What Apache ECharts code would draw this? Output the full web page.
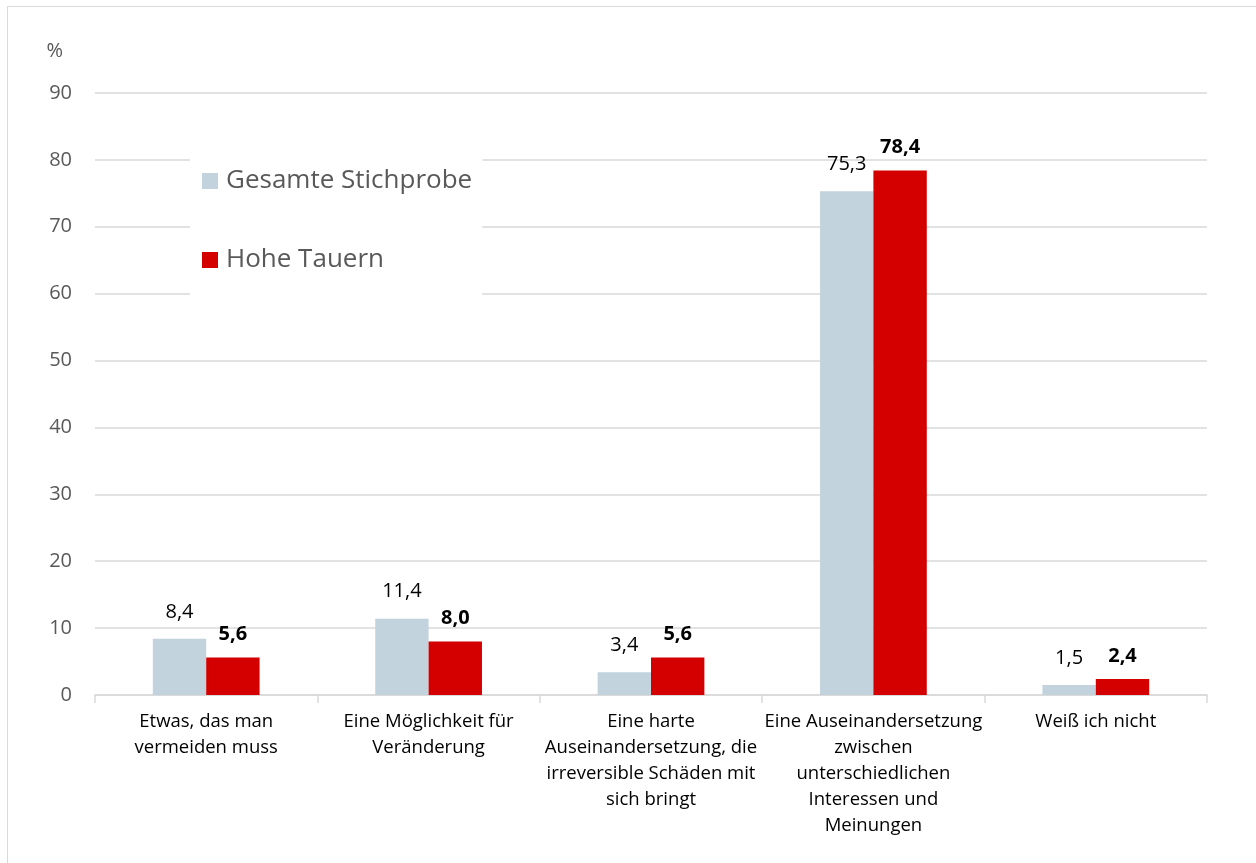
<!DOCTYPE html>
<html>
<head>
<meta charset="utf-8">
<script src="https://cdn.jsdelivr.net/npm/echarts@6/dist/echarts.min.js"></script>
<style>
html,body{margin:0;padding:0;background:#fff;overflow:hidden;}
#frame{position:absolute;left:7px;top:6px;width:1262px;height:870px;border:1.5px solid #d9d9d9;box-sizing:border-box;}
#chart{position:absolute;left:0;top:0;width:1256px;height:863px;}
</style>
</head>
<body>
<div id="frame"></div>
<div id="chart"></div>
<script>
const categories = [
  "Etwas, das man\nvermeiden muss",
  "Eine Möglichkeit für\nVeränderung",
  "Eine harte\nAuseinandersetzung, die\nirreversible Schäden mit\nsich bringt",
  "Eine Auseinandersetzung\nzwischen\nunterschiedlichen\nInteressen und\nMeinungen",
  "Weiß ich nicht"
];
const seriesNames = ["Gesamte Stichprobe", "Hohe Tauern"];
const gesamt = [8.4, 11.4, 3.4, 75.3, 1.5];
const hoheTauern = [5.6, 8.0, 5.6, 78.4, 2.4];
const yTicks = { min: 0, max: 90, interval: 10 };

const FONT = "'Open Sans', sans-serif";
const fmt = p => p.value.toFixed(1).replace('.', ',');

const chart = echarts.init(document.getElementById('chart'));
chart.setOption({
  animation: false,
  textStyle: { fontFamily: FONT },
  grid: { left: 95, right: 49, top: 93, bottom: 168 },
  legend: {
    orient: 'vertical',
    left: 190,
    top: 151,
    data: seriesNames,
    itemWidth: 16,
    itemHeight: 16,
    itemGap: 53,
    icon: 'rect',
    backgroundColor: '#fff',
    padding: [17, 10, 30, 12],
    textStyle: { fontSize: 26, color: '#595959', fontFamily: FONT, padding: [0, 0, 0, 3] }
  },
  xAxis: {
    type: 'category',
    data: categories,
    axisLine: { lineStyle: { color: '#d9d9d9', width: 1.5 } },
    axisTick: { show: true, length: 8, lineStyle: { color: '#d9d9d9', width: 1.5 } },
    axisLabel: { interval: 0, color: '#000', fontSize: 18.5, lineHeight: 26, margin: 14, fontFamily: FONT }
  },
  yAxis: {
    type: 'value',
    min: yTicks.min, max: yTicks.max, interval: yTicks.interval,
    name: '%',
    nameLocation: 'end',
    nameGap: 32,
    nameTextStyle: { color: '#595959', fontSize: 20, align: 'right', padding: [0, 32, 0, 0], fontFamily: FONT },
    axisLine: { show: false },
    axisTick: { show: false },
    axisLabel: { color: '#595959', fontSize: 20, margin: 23, fontFamily: FONT },
    splitLine: { lineStyle: { color: '#d9d9d9', width: 1.5 } }
  },
  series: [
    {
      name: seriesNames[0], type: 'bar', data: gesamt,
      barGap: '0%', barCategoryGap: '52%',
      itemStyle: { color: '#c3d3dd' },
      label: { show: true, position: 'top', distance: 17, formatter: fmt, color: '#000', fontSize: 20, fontFamily: FONT }
    },
    {
      name: seriesNames[1], type: 'bar', data: hoheTauern,
      barGap: '0%', barCategoryGap: '52%',
      itemStyle: { color: '#d40000' },
      label: { show: true, position: 'top', distance: 13, formatter: fmt, color: '#000', fontSize: 20, fontWeight: 'bold', fontFamily: FONT }
    }
  ]
});
</script>
</body>
</html>
